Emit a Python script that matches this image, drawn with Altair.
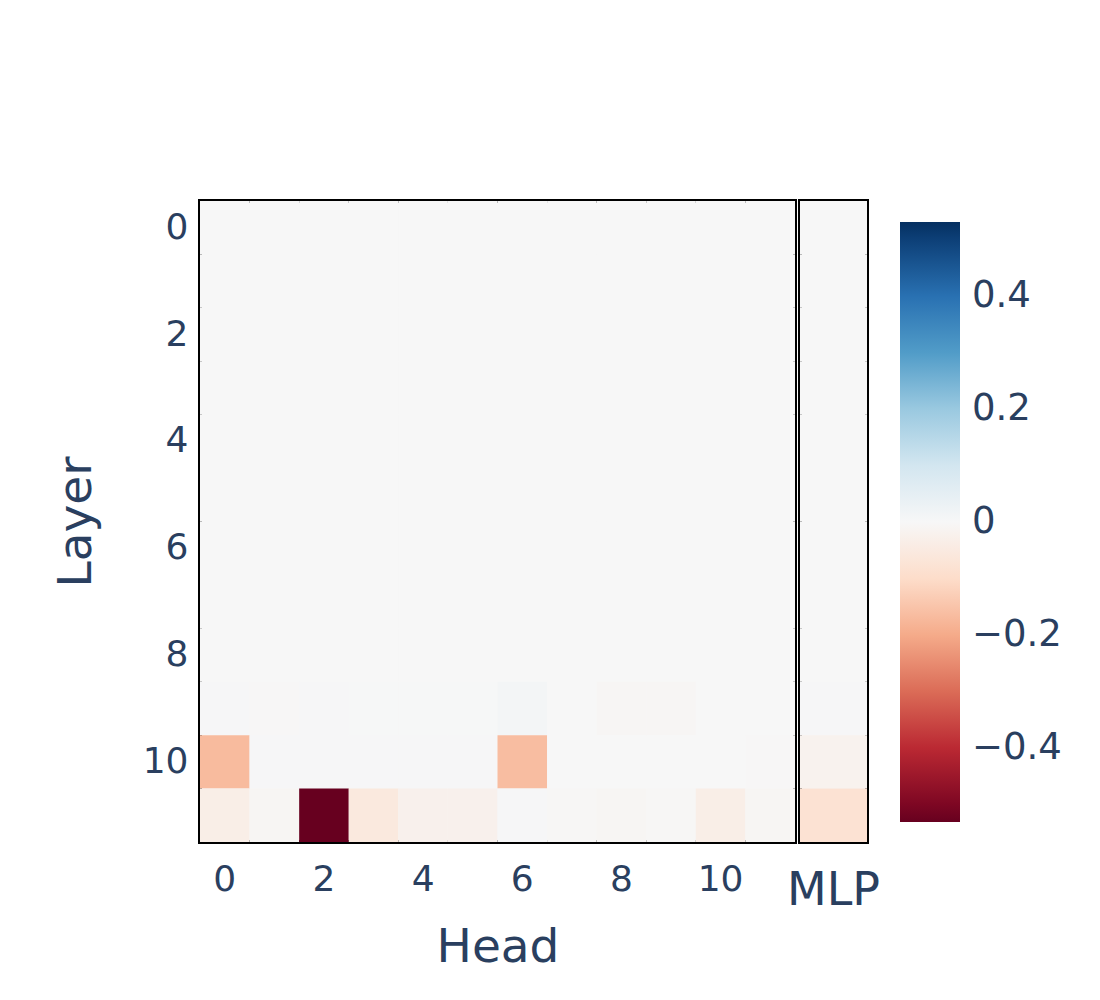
import altair as alt
import pandas as pd

layers = list(range(12))
heads = list(range(12))

# attention-head values, rows = layers 0..11, columns = heads 0..11
head_values = [
    [0.0] * 12,
    [0.0] * 12,
    [0.0] * 12,
    [0.0] * 12,
    [0.0] * 12,
    [0.0] * 12,
    [0.0] * 12,
    [0.0, 0.0, 0.0, 0.0, 0.0, 0.0, 0.001, 0.0, -0.001, 0.0, 0.0, 0.0],
    [0.0, 0.0, 0.0, 0.0, 0.0, 0.0, 0.0, 0.0, -0.001, -0.001, 0.0, 0.0],
    [0.003, -0.002, 0.004, 0.002, 0.002, 0.002, 0.01, 0.001, -0.006, -0.006, 0.001, 0.001],
    [-0.17, 0.003, 0.003, 0.003, 0.003, 0.003, -0.165, 0.0, 0.0, 0.0, 0.0, -0.002],
    [-0.035, -0.008, -0.532, -0.055, -0.025, -0.025, 0.003, -0.005, -0.008, -0.005, -0.035, -0.008],
]
mlp_values = [0.0, 0.0, 0.0, 0.0, 0.0, 0.0, 0.0, 0.0, -0.001, 0.003, -0.02, -0.08]

rdbu = ["#67001f", "#b2182b", "#d6604d", "#f4a582", "#fddbc7", "#f7f7f7",
        "#d1e5f0", "#92c5de", "#4393c3", "#2166ac", "#053061"]
vmax = 0.532
stops = [-vmax + i * (2 * vmax / 10) for i in range(11)]

rows = []
for li in layers:
    for hi in heads:
        rows.append({"Layer": li, "Head": hi, "value": head_values[li][hi]})
df_heads = pd.DataFrame(rows)
df_mlp = pd.DataFrame({"Layer": layers, "Head": ["MLP"] * 12, "value": mlp_values})

FONT = "DejaVu Sans"
TXT = "#2a3f5f"

color = alt.Color(
    "value:Q",
    scale=alt.Scale(domain=stops, range=rdbu, interpolate="rgb"),
    legend=alt.Legend(
        title=None,
        orient="none",
        legendX=700,
        legendY=21,
        direction="vertical",
        gradientLength=600,
        gradientThickness=60,
        values=[-0.4, -0.2, 0, 0.2, 0.4],
        labelExpr="datum.value == 0 ? '0' : replace(format(datum.value, '.1f'), '-', '\u2212')",
        labelFontSize=37,
        labelColor=TXT,
        labelFont=FONT,
        labelOffset=12,
        tickCount=5,
    ),
)

main = alt.Chart(df_heads).mark_rect().encode(
    x=alt.X("Head:O", scale=alt.Scale(paddingInner=0, paddingOuter=0),
            axis=alt.Axis(values=[0, 2, 4, 6, 8, 10], labelAngle=0, ticks=False,
                          domain=False, labelPadding=20, labelFontSize=36,
                          title="Head", titleFontSize=47, titlePadding=27,
                          titleFontWeight="normal")),
    y=alt.Y("Layer:O", scale=alt.Scale(paddingInner=0, paddingOuter=0),
            axis=alt.Axis(values=[0, 2, 4, 6, 8, 10], ticks=False, domain=False,
                          labelPadding=12, labelFontSize=36,
                          title="Layer", titleFontSize=47, titlePadding=42,
                          titleFontWeight="normal")),
    color=color,
).properties(width=595, height=641)

mlp = alt.Chart(df_mlp).mark_rect().encode(
    x=alt.X("Head:N", scale=alt.Scale(paddingInner=0, paddingOuter=0),
            axis=alt.Axis(labelAngle=0, ticks=False, domain=False, labelPadding=26,
                          labelFontSize=46, title=None)),
    y=alt.Y("Layer:O", scale=alt.Scale(paddingInner=0, paddingOuter=0), axis=None),
    color=color,
).properties(width=67, height=641)

chart = alt.hconcat(main, mlp, spacing=5, bounds="flush").resolve_scale(
    color="shared"
).configure_view(
    stroke="black", strokeWidth=4, fill="#f7f7f7"
).configure_axis(
    labelFont=FONT, titleFont=FONT, labelColor=TXT, titleColor=TXT, grid=False
).properties(
    padding={"left": 42, "top": 191, "right": 10, "bottom": 10},
    background="white",
)

chart.save("out.html", embed_options={"renderer": "svg", "actions": False})
